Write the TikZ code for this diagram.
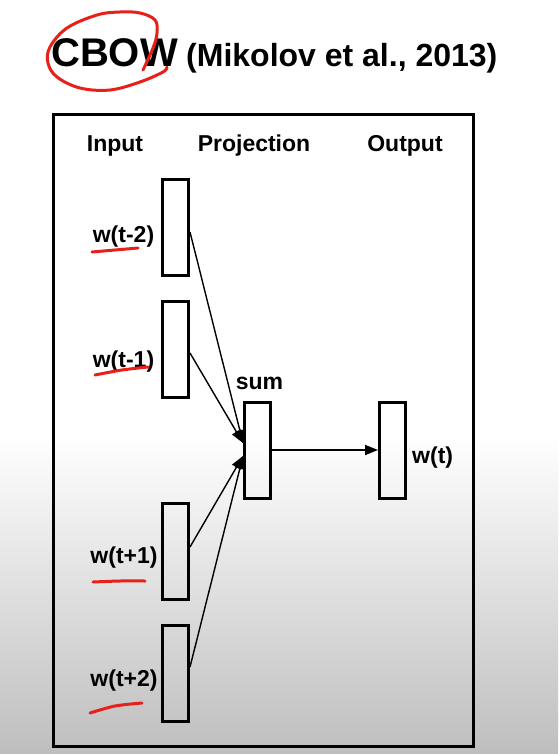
\documentclass[tikz,border=0pt]{standalone}
\usepackage{fontspec}
\setmainfont{Liberation Sans}
\usetikzlibrary{arrows.meta}
\definecolor{bggray}{RGB}{190,190,190}
\definecolor{penred}{RGB}{232,32,26}
\tikzset{
  vecbox/.style={draw=black, line width=3pt, minimum width=26pt, minimum height=96pt, inner sep=0pt},
  lbl/.style={font=\fontsize{23}{25}\selectfont\bfseries, inner sep=0pt},
  conn/.style={line width=1.4pt, -{Triangle[length=13pt,width=10pt]}},
  pen/.style={draw=penred, line width=3pt, line cap=round, line join=round}
}
\begin{document}
\begin{tikzpicture}[x=1pt,y=-1pt]
\useasboundingbox (0,0) rectangle (558,754);
\fill[white] (0,0) rectangle (558,754);
\shade[top color=white, bottom color=bggray] (0,435) rectangle (558,754);
% title
\node[anchor=base west, inner sep=0pt, font=\fontsize{40}{44}\selectfont\bfseries] (title) at (51,67) {CBOW};
\node[anchor=base west, inner sep=0pt, font=\fontsize{32}{36}\selectfont\bfseries] (cite) at (186,67) {(Mikolov et al., 2013)};
% frame
\draw[line width=3.5pt] (53.5,114.5) rectangle (473.5,746.5);
% headings
\node[lbl, anchor=base] (hin) at (115,152) {Input};
\node[lbl, anchor=base] (hproj) at (254,152) {Projection};
\node[lbl, anchor=base] (hout) at (405,152) {Output};
% boxes
\node[vecbox] (in1) at (175.5,227.5) {};
\node[vecbox] (in2) at (175.5,349.5) {};
\node[vecbox] (in3) at (175.5,551) {};
\node[vecbox] (in4) at (175.5,673) {};
\node[vecbox] (sum) at (257.5,450) {};
\node[vecbox] (out) at (392.5,450) {};
% labels
\node[lbl, anchor=base] (l1) at (123.5,242) {w(t-2)};
\node[lbl, anchor=base] (l2) at (123.5,367) {w(t-1)};
\node[lbl, anchor=base] (l3) at (124,563) {w(t+1)};
\node[lbl, anchor=base] (l4) at (124,686) {w(t+2)};
\node[lbl, anchor=base] (lsum) at (259.5,389) {sum};
\node[lbl, anchor=base west] (lout) at (412,463) {w(t)};
% connectors
\coordinate (sumtop) at ([yshift=7pt]sum.west);
\coordinate (sumbot) at ([yshift=-6pt]sum.west);
\draw[conn] ([yshift=-4.5pt]in1.east) -- (sumtop);
\draw[conn] ([yshift=-3.5pt]in2.east) -- (sumtop);
\draw[conn] ([yshift=4pt]in3.east) -- (sumbot);
\draw[conn] ([yshift=6pt]in4.east) -- (sumbot);
\draw[line width=1.8pt, -{Triangle[length=13pt,width=10pt]}] (sum.east) -- (out.west);
% red pen annotations
\draw[pen] plot[smooth, tension=0.6] coordinates {(143,70) (153,48) (157,33) (155,20) (140,13) (120,12) (97,15) (67,28) (50,47) (48,63) (57,77) (80,88) (110,90) (140,82) (163,72) (167,67)};
\draw[pen] plot[smooth] coordinates {(92,252) (115,250) (138,248)};
\draw[pen] plot[smooth] coordinates {(95,375) (122,370) (148,367)};
\draw[pen] plot[smooth] coordinates {(93,582) (120,581) (145,581)};
\draw[pen] plot[smooth] coordinates {(90,713) (115,706) (142,703)};
\end{tikzpicture}
\end{document}
